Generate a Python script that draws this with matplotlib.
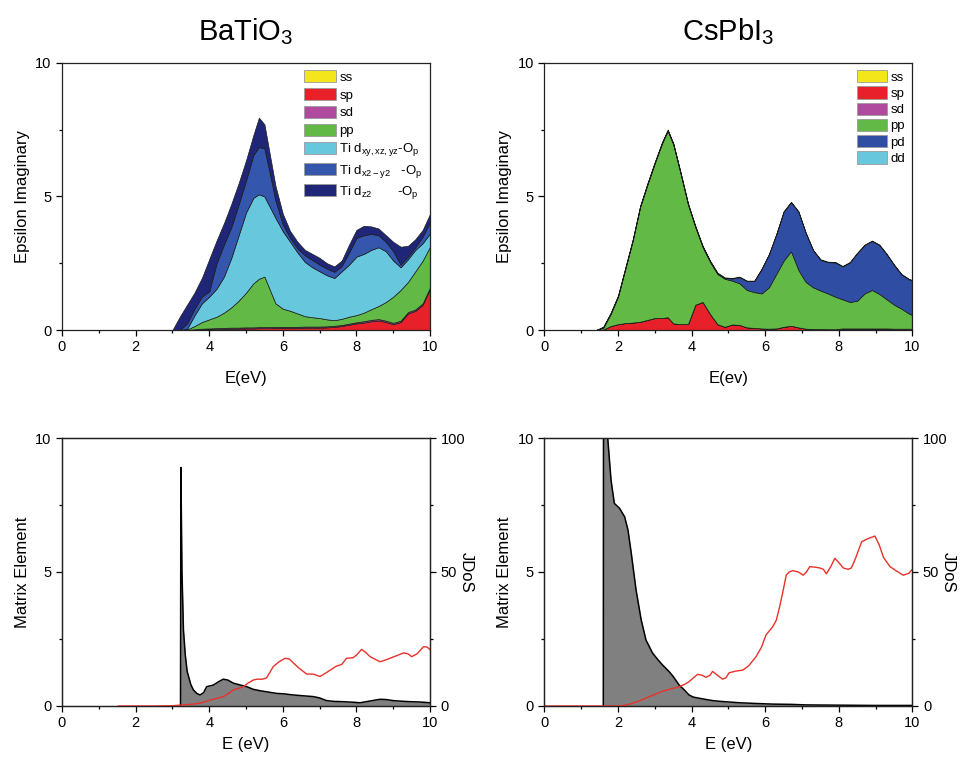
import matplotlib
matplotlib.use("Agg")
import matplotlib.pyplot as plt
from matplotlib.patches import Patch
from matplotlib.ticker import MultipleLocator

plt.rcParams['font.family'] = ['Liberation Sans', 'DejaVu Sans']
plt.rcParams['mathtext.fontset'] = 'custom'
plt.rcParams['mathtext.rm'] = 'Liberation Sans'
plt.rcParams['mathtext.it'] = 'Liberation Sans:italic'

# BaTiO3 partial contributions to the imaginary dielectric function
E_bto = [0, 3.0, 3.2, 3.4, 3.6, 3.8, 4.0, 4.2, 4.4, 4.6, 4.8, 5.0, 5.2, 5.35, 5.5, 5.65,
         5.8, 6.0, 6.2, 6.4, 6.6, 6.8, 7.0, 7.2, 7.4, 7.6, 7.8, 8.0, 8.2, 8.4, 8.6, 8.8,
         9.0, 9.2, 9.4, 9.6, 9.8, 10.0]
bto_ss = [0] * len(E_bto)
bto_sp = [0, 0, 0, 0, 0.01, 0.02, 0.03, 0.03, 0.04, 0.05, 0.05, 0.06, 0.06, 0.07, 0.07, 0.07,
          0.08, 0.08, 0.08, 0.08, 0.09, 0.09, 0.09, 0.10, 0.12, 0.15, 0.20, 0.25, 0.28, 0.33, 0.36, 0.30,
          0.22, 0.30, 0.62, 0.72, 0.95, 1.55]
bto_sd = [0, 0, 0, 0, 0.02, 0.03, 0.03, 0.04, 0.04, 0.04, 0.04, 0.04, 0.04, 0.04, 0.04, 0.04,
          0.04, 0.04, 0.04, 0.04, 0.04, 0.04, 0.04, 0.04, 0.04, 0.04, 0.04, 0.04, 0.05, 0.05, 0.05, 0.05,
          0.05, 0.05, 0.05, 0.05, 0.05, 0.05]
bto_pp = [0, 0, 0, 0.02, 0.12, 0.25, 0.34, 0.43, 0.57, 0.76, 1.01, 1.30, 1.65, 1.81, 1.89, 1.39,
          0.88, 0.68, 0.60, 0.50, 0.39, 0.35, 0.32, 0.26, 0.21, 0.23, 0.26, 0.27, 0.32, 0.40, 0.49, 0.70,
          0.98, 1.15, 1.13, 1.43, 1.60, 1.52]
bto_dxy = [0, 0, 0, 0.03, 0.40, 0.70, 0.85, 1.05, 1.35, 1.85, 2.45, 3.00, 3.20, 3.16, 3.00, 3.10,
           3.20, 2.90, 2.58, 2.28, 2.03, 1.87, 1.75, 1.65, 1.58, 1.78, 1.95, 2.19, 2.20, 2.22, 2.20, 1.90,
           1.35, 0.85, 0.85, 0.80, 0.65, 0.50]
bto_dx2 = [0, 0, 0, 0.20, 0.25, 0.25, 0.20, 0.95, 1.20, 1.15, 1.15, 1.20, 1.60, 1.77, 1.80, 1.25,
           0.65, 0.25, 0.15, 0.15, 0.25, 0.27, 0.25, 0.25, 0.23, 0.20, 0.45, 0.70, 0.70, 0.60, 0.45, 0.35,
           0.35, 0.10, 0.10, 0.10, 0.25, 0.43]
bto_dz2 = [0, 0, 0.50, 0.70, 0.60, 0.70, 1.20, 0.85, 0.80, 0.87, 0.80, 0.75, 0.75, 1.10, 0.90, 0.70,
           0.55, 0.40, 0.25, 0.25, 0.20, 0.23, 0.25, 0.20, 0.20, 0.20, 0.30, 0.30, 0.35, 0.28, 0.25, 0.25,
           0.35, 0.67, 0.40, 0.30, 0.25, 0.30]
bto_labels = ['ss', 'sp', 'sd', 'pp',
              r'Ti d$_{\mathrm{xy,xz,yz}}$-O$_{\mathrm{p}}$',
              r'Ti d$_{\mathrm{x2-y2}}$   -O$_{\mathrm{p}}$',
              r'Ti d$_{\mathrm{z2}}$       -O$_{\mathrm{p}}$']

# CsPbI3 partial contributions
E_cpi = [0, 1.4, 1.6, 1.8, 2.0, 2.2, 2.4, 2.6, 2.8, 3.0, 3.2, 3.35, 3.5, 3.7, 3.9, 4.1, 4.3,
         4.5, 4.7, 4.9, 5.1, 5.3, 5.5, 5.7, 5.9, 6.1, 6.3, 6.5, 6.7, 6.9, 7.1, 7.3, 7.5, 7.7,
         7.9, 8.1, 8.3, 8.5, 8.7, 8.9, 9.1, 9.3, 9.5, 9.7, 9.9, 10.0]
cpi_ss = [0] * len(E_cpi)
cpi_sp = [0, 0, 0.02, 0.15, 0.22, 0.26, 0.28, 0.31, 0.38, 0.45, 0.45, 0.48, 0.25, 0.22, 0.22, 0.95, 1.05,
          0.60, 0.22, 0.12, 0.21, 0.19, 0.10, 0.08, 0.06, 0.05, 0.06, 0.12, 0.16, 0.10, 0.05, 0.04, 0.04, 0.03,
          0.03, 0.03, 0.03, 0.03, 0.03, 0.03, 0.03, 0.03, 0.02, 0.02, 0.02, 0.02]
cpi_sd = [0] * 35 + [0.03] * 11
cpi_pp = [0, 0, 0.07, 0.45, 1.03, 2.04, 3.07, 4.29, 5.07, 5.80, 6.55, 6.97, 6.70, 5.63, 4.48, 2.90, 2.05,
          1.95, 1.88, 1.80, 1.64, 1.56, 1.40, 1.34, 1.31, 1.55, 2.04, 2.48, 2.79, 2.15, 1.75, 1.56, 1.44, 1.34,
          1.22, 1.09, 0.99, 1.04, 1.31, 1.44, 1.29, 1.09, 0.90, 0.75, 0.57, 0.51]
cpi_pd = [0, 0, 0.02, 0.03, 0.03, 0.03, 0.03, 0.03, 0.03, 0.03, 0.03, 0.03, 0.03, 0.03, 0.03, 0.03, 0.03,
          0.03, 0.03, 0.03, 0.08, 0.23, 0.33, 0.41, 0.91, 1.23, 1.48, 1.83, 1.83, 2.18, 1.83, 1.38, 1.15, 1.17,
          1.28, 1.23, 1.48, 1.78, 1.81, 1.83, 1.83, 1.68, 1.48, 1.28, 1.28, 1.29]
cpi_dd = [0, 0] + [0.02] * 44
cpi_labels = ['ss', 'sp', 'sd', 'pp', 'pd', 'dd']

# Matrix element and joint density of states
E_me_bto = [3.22, 3.23, 3.26, 3.30, 3.35, 3.40, 3.50, 3.57, 3.66, 3.75, 3.85, 3.93, 4.02, 4.11,
            4.25, 4.38, 4.50, 4.66, 4.85, 5.02, 5.20, 5.38, 5.60, 5.83, 6.05, 6.29, 6.55, 6.83,
            7.00, 7.19, 7.40, 7.64, 7.90, 8.10, 8.35, 8.64, 8.80, 9.00, 9.20, 9.46, 9.70, 10.0]
me_bto = [0, 8.9, 5.0, 2.84, 1.9, 1.3, 0.8, 0.6, 0.47, 0.41, 0.5, 0.72, 0.75, 0.78,
          0.9, 1.0, 0.97, 0.85, 0.78, 0.72, 0.62, 0.57, 0.52, 0.47, 0.45, 0.41, 0.38, 0.35,
          0.30, 0.20, 0.17, 0.16, 0.14, 0.12, 0.18, 0.25, 0.24, 0.20, 0.18, 0.16, 0.15, 0.12]
E_jdos_bto = [1.53, 2.0, 2.5, 3.0, 3.2, 3.57, 3.8, 4.02, 4.2, 4.38, 4.5, 4.66, 4.8, 4.93, 5.05,
              5.2, 5.3, 5.45, 5.56, 5.74, 5.9, 6.06, 6.18, 6.29, 6.45, 6.65, 6.83, 7.01, 7.19,
              7.3, 7.46, 7.6, 7.73, 7.91, 8.0, 8.14, 8.25, 8.37, 8.5, 8.64, 8.8, 8.91, 9.1, 9.28,
              9.4, 9.5, 9.65, 9.82, 9.92, 10.0]
jdos_bto = [0, 0, 0, 0.1, 0.3, 0.7, 1.2, 2.2, 2.8, 3.5, 4.5, 6.0, 6.6, 7.2, 8.5,
            9.7, 10.0, 10.0, 10.5, 14.7, 16.5, 17.8, 17.5, 16.0, 14.0, 11.9, 11.9, 11.0, 12.5,
            13.5, 14.9, 15.5, 17.8, 18.0, 19.0, 21.1, 20.0, 18.4, 17.5, 16.5, 17.2, 17.8, 18.8, 19.8,
            19.5, 18.4, 19.5, 22.1, 22.0, 21.0]

E_me_cpi = [1.60, 1.61, 1.72, 1.81, 1.90, 2.04, 2.18, 2.27, 2.36, 2.49, 2.63, 2.76, 2.94, 3.10,
            3.21, 3.39, 3.50, 3.66, 3.80, 3.93, 4.05, 4.20, 4.40, 4.57, 4.80, 5.30, 5.80, 6.20,
            6.70, 7.10, 8.00, 9.00, 10.0]
me_cpi = [0, 20.0, 10.0, 8.43, 7.56, 7.38, 7.06, 6.57, 5.7, 4.33, 3.21, 2.46, 1.97, 1.7,
          1.53, 1.28, 1.1, 0.78, 0.6, 0.41, 0.33, 0.29, 0.24, 0.2, 0.17, 0.12, 0.09, 0.07,
          0.06, 0.04, 0.03, 0.02, 0.02]
E_jdos_cpi = [0, 1.0, 2.04, 2.2, 2.4, 2.6, 2.85, 3.0, 3.21, 3.45, 3.66, 3.8, 3.93, 4.05, 4.16,
              4.28, 4.39, 4.5, 4.57, 4.7, 4.84, 4.93, 5.02, 5.2, 5.39, 5.55, 5.75, 5.9, 6.02,
              6.2, 6.3, 6.39, 6.5, 6.57, 6.65, 6.75, 6.9, 7.03, 7.12, 7.21, 7.35, 7.48, 7.58,
              7.66, 7.78, 7.89, 8.0, 8.12, 8.25, 8.34, 8.45, 8.62, 8.8, 8.98, 9.1, 9.21, 9.39,
              9.55, 9.75, 9.9, 10.0]
jdos_cpi = [0, 0, 0, 0.3, 1.0, 2.0, 3.5, 4.3, 5.5, 6.4, 7.2, 8.0, 9.1, 10.5, 11.8,
            11.5, 10.7, 11.5, 12.9, 11.5, 10.0, 10.5, 12.4, 13.0, 13.4, 15.0, 18.4, 22.0, 26.5,
            29.5, 32.0, 37.0, 44.0, 48.8, 50.0, 50.5, 50.0, 48.8, 50.0, 52.0, 51.8, 51.5, 51.0,
            49.3, 52.0, 55.1, 53.5, 51.5, 51.0, 51.5, 55.0, 61.3, 62.5, 63.4, 60.0, 55.5, 52.0,
            50.5, 48.8, 49.5, 51.0]

bto_colors = ['#f3e61b', '#e8202a', '#b04a9f', '#62b946', '#67c8dd', '#3556ad', '#1f2677']
cpi_colors = ['#f3e61b', '#e8202a', '#b04a9f', '#62b946', '#2f4ea3', '#67c8dd']

TICK_FS = 10.5
LABEL_FS = 12


def style_axis(ax, ylab, xlab, xpad):
    ax.set_xlim(0, 10)
    ax.set_ylim(0, 10)
    ax.xaxis.set_major_locator(MultipleLocator(2))
    ax.xaxis.set_minor_locator(MultipleLocator(1))
    ax.yaxis.set_major_locator(MultipleLocator(5))
    ax.yaxis.set_minor_locator(MultipleLocator(2.5))
    ax.tick_params(which='both', direction='out', labelsize=TICK_FS, width=0.9)
    ax.tick_params(which='major', length=4)
    ax.tick_params(which='minor', length=2.5)
    ax.set_xlabel(xlab, fontsize=LABEL_FS, labelpad=xpad)
    ax.set_ylabel(ylab, fontsize=LABEL_FS)
    for sp in ax.spines.values():
        sp.set_linewidth(0.9)
        sp.set_color('#222222')


def stack_panel(ax, E, layers, colors, labels, title, xlab, spacing, hlen):
    ax.stackplot(E, *layers, colors=colors, edgecolor='#1a1a1a', linewidth=0.5)
    style_axis(ax, 'Epsilon Imaginary', xlab, 12)
    ax.set_title(title, fontsize=21, pad=16)
    handles = [Patch(facecolor=c, edgecolor='#9a9a9a', linewidth=0.6) for c in colors]
    ax.legend(handles, labels, loc='upper right', frameon=False, fontsize=9.5,
              handlelength=hlen, handleheight=1.05, labelspacing=spacing,
              handletextpad=0.3, borderaxespad=0.15)


def matrix_panel(ax, E_me, me, E_j, jdos):
    ax.fill_between(E_me, me, 0, color='#808080', linewidth=0)
    ax.plot(E_me, me, color='black', linewidth=1.1)
    style_axis(ax, 'Matrix Element', 'E (eV)', 5)
    ax.tick_params(axis='y', right=False)
    ax2 = ax.twinx()
    ax2.plot(E_j, jdos, color='#e8322a', linewidth=1.0)
    ax2.set_ylim(0, 100)
    ax2.yaxis.set_major_locator(MultipleLocator(50))
    ax2.yaxis.set_minor_locator(MultipleLocator(25))
    ax2.tick_params(which='both', direction='out', labelsize=TICK_FS, width=0.9)
    ax2.tick_params(which='major', length=4)
    ax2.tick_params(which='minor', length=2.5)
    ax2.set_ylabel('JDoS', fontsize=LABEL_FS, rotation=270, labelpad=6)
    for sp in ax2.spines.values():
        sp.set_linewidth(0.9)
        sp.set_color('#222222')


fig = plt.figure(figsize=(9.61, 7.57), dpi=100)
ax_tl = fig.add_axes([0.0645, 0.564, 0.383, 0.353])
ax_tr = fig.add_axes([0.5665, 0.564, 0.383, 0.353])
ax_bl = fig.add_axes([0.0645, 0.0674, 0.383, 0.354])
ax_br = fig.add_axes([0.5665, 0.0674, 0.383, 0.354])

stack_panel(ax_tl, E_bto, [bto_ss, bto_sp, bto_sd, bto_pp, bto_dxy, bto_dx2, bto_dz2],
            bto_colors, bto_labels, r'BaTiO$_{\mathrm{3}}$', 'E(eV)', 0.32, 2.4)
stack_panel(ax_tr, E_cpi, [cpi_ss, cpi_sp, cpi_sd, cpi_pp, cpi_pd, cpi_dd],
            cpi_colors, cpi_labels, r'CsPbI$_{\mathrm{3}}$', 'E(ev)', 0.2, 2.2)

matrix_panel(ax_bl, E_me_bto, me_bto, E_jdos_bto, jdos_bto)
matrix_panel(ax_br, E_me_cpi, me_cpi, E_jdos_cpi, jdos_cpi)

fig.savefig('out.png', dpi=100)
